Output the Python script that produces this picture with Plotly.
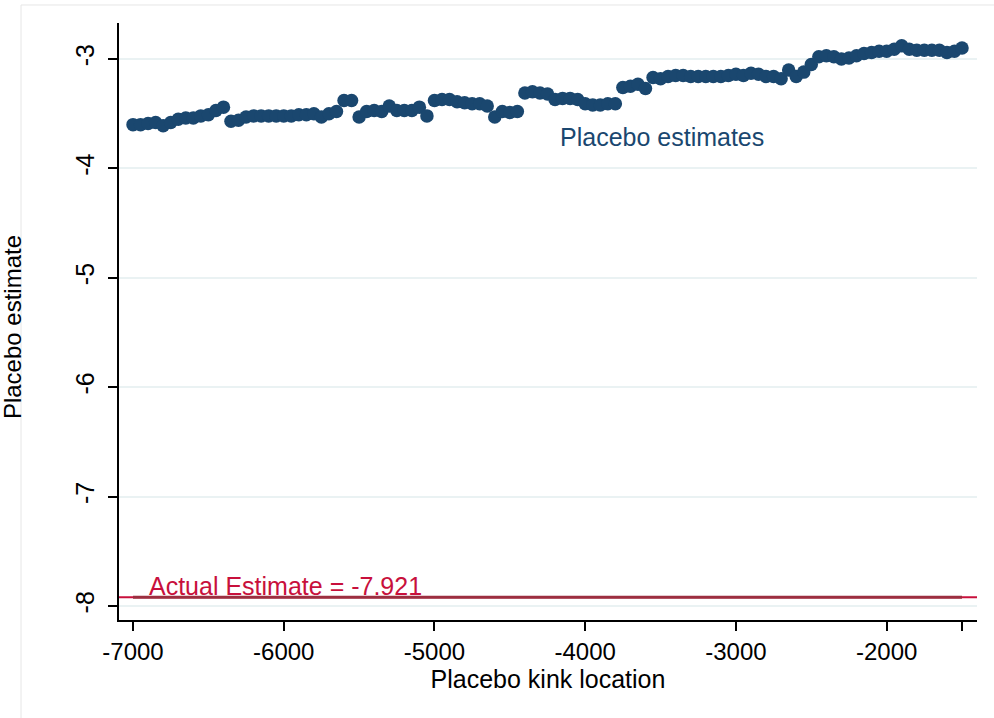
import plotly.graph_objects as go

kink_location = [
    -7000, -6950, -6900, -6850, -6800, -6750, -6700, -6650, -6600, -6550,
    -6500, -6450, -6400, -6350, -6300, -6250, -6200, -6150, -6100, -6050,
    -6000, -5950, -5900, -5850, -5800, -5750, -5700, -5650, -5600, -5550,
    -5500, -5450, -5400, -5350, -5300, -5250, -5200, -5150, -5100, -5050,
    -5000, -4950, -4900, -4850, -4800, -4750, -4700, -4650, -4600, -4550,
    -4500, -4450, -4400, -4350, -4300, -4250, -4200, -4150, -4100, -4050,
    -4000, -3950, -3900, -3850, -3800, -3750, -3700, -3650, -3600, -3550,
    -3500, -3450, -3400, -3350, -3300, -3250, -3200, -3150, -3100, -3050,
    -3000, -2950, -2900, -2850, -2800, -2750, -2700, -2650, -2600, -2550,
    -2500, -2450, -2400, -2350, -2300, -2250, -2200, -2150, -2100, -2050,
    -2000, -1950, -1900, -1850, -1800, -1750, -1700, -1650, -1600, -1550,
    -1500,
]

placebo_estimate = [
    -3.60, -3.60, -3.59, -3.58, -3.61, -3.58, -3.55, -3.54, -3.54, -3.52,
    -3.51, -3.47, -3.44, -3.57, -3.56, -3.53, -3.52, -3.52, -3.52, -3.52,
    -3.52, -3.52, -3.51, -3.51, -3.50, -3.53, -3.50, -3.48, -3.38, -3.38,
    -3.53, -3.48, -3.47, -3.48, -3.43, -3.47, -3.47, -3.47, -3.44, -3.52,
    -3.38, -3.37, -3.37, -3.39, -3.40, -3.41, -3.41, -3.43, -3.53, -3.48,
    -3.49, -3.48, -3.31, -3.30, -3.31, -3.32, -3.37, -3.36, -3.36, -3.37,
    -3.41, -3.42, -3.42, -3.41, -3.41, -3.26, -3.25, -3.23, -3.27, -3.17,
    -3.18, -3.16, -3.15, -3.15, -3.16, -3.16, -3.16, -3.16, -3.16, -3.15,
    -3.14, -3.15, -3.13, -3.14, -3.16, -3.16, -3.18, -3.10, -3.16, -3.12,
    -3.05, -2.98, -2.97, -2.98, -3.00, -2.99, -2.97, -2.95, -2.94, -2.93,
    -2.93, -2.91, -2.88, -2.91, -2.92, -2.92, -2.92, -2.92, -2.94, -2.93,
    -2.90,
]

actual_estimate = -7.921

x_tick_vals = [-7000, -6000, -5000, -4000, -3000, -2000, -1500]
x_tick_text = ["-7000", "-6000", "-5000", "-4000", "-3000", "-2000", ""]
y_tick_vals = [-8, -7, -6, -5, -4, -3]
y_tick_text = ["-8", "-7", "-6", "-5", "-4", "-3"]

NAVY = "#1a476f"
CRIMSON = "#c8103c"
MAROON = "#9c2f40"
FONT = "Liberation Sans, Arial, sans-serif"

fig = go.Figure()

# actual estimate reference line (full width)
fig.add_shape(type="line", xref="paper", yref="y", x0=0, x1=1,
              y0=actual_estimate, y1=actual_estimate,
              line=dict(color=CRIMSON, width=2), layer="below")

# actual estimate line over the data range
fig.add_trace(go.Scatter(
    x=[kink_location[0], kink_location[-1]],
    y=[actual_estimate, actual_estimate],
    mode="lines", line=dict(color=MAROON, width=3),
    showlegend=False, hoverinfo="skip"))

fig.add_trace(go.Scatter(
    x=kink_location, y=placebo_estimate, mode="markers",
    marker=dict(color=NAVY, size=13.5, line=dict(width=0)),
    showlegend=False))

fig.add_annotation(x=-6905, y=-7.82, xref="x", yref="y",
                   text="Actual Estimate = -7.921", showarrow=False,
                   xanchor="left", yanchor="middle",
                   font=dict(family=FONT, size=25, color=CRIMSON))
fig.add_annotation(x=-3490, y=-3.713, xref="x", yref="y",
                   text="Placebo estimates", showarrow=False,
                   xanchor="center", yanchor="middle",
                   font=dict(family=FONT, size=25, color=NAVY))

# y-axis title near the left page edge
fig.add_annotation(x=-0.124, y=0.49, xref="paper", yref="paper",
                   text="Placebo estimate", showarrow=False, textangle=-90,
                   xanchor="center", yanchor="middle",
                   font=dict(family=FONT, size=24, color="black"))

# faint outer frame
fig.add_shape(type="line", xref="paper", yref="paper",
              x0=-0.1142, x1=1.05, y0=1.0302, y1=1.0302,
              line=dict(color="#e6e6e6", width=1))
fig.add_shape(type="line", xref="paper", yref="paper",
              x0=-0.1142, x1=-0.1142, y0=1.0302, y1=-0.2,
              line=dict(color="#e6e6e6", width=1))

fig.update_layout(
    width=994, height=718,
    margin=dict(l=119, r=17, t=23, b=98),
    paper_bgcolor="white", plot_bgcolor="white",
    font=dict(family=FONT, color="black"),
    xaxis=dict(range=[-7093, -1400.5], tickvals=x_tick_vals, ticktext=x_tick_text,
               showgrid=False, zeroline=False, showline=True, linecolor="black",
               linewidth=1.5, ticks="outside", ticklen=9, tickwidth=1.5,
               tickcolor="black", tickfont=dict(family=FONT, size=24),
               title=dict(text="Placebo kink location", standoff=2,
                          font=dict(family=FONT, size=25))),
    yaxis=dict(range=[-8.128, -2.671], tickvals=y_tick_vals, ticktext=y_tick_text,
               showgrid=True, gridcolor="#eaf2f3", gridwidth=2, zeroline=False,
               showline=True, linecolor="black", linewidth=1.5, ticks="outside",
               ticklen=9, tickwidth=1.5, tickcolor="black", tickangle=-90,
               ticklabelstandoff=4,
               tickfont=dict(family=FONT, size=25)),
)

fig.write_html("out.html")
